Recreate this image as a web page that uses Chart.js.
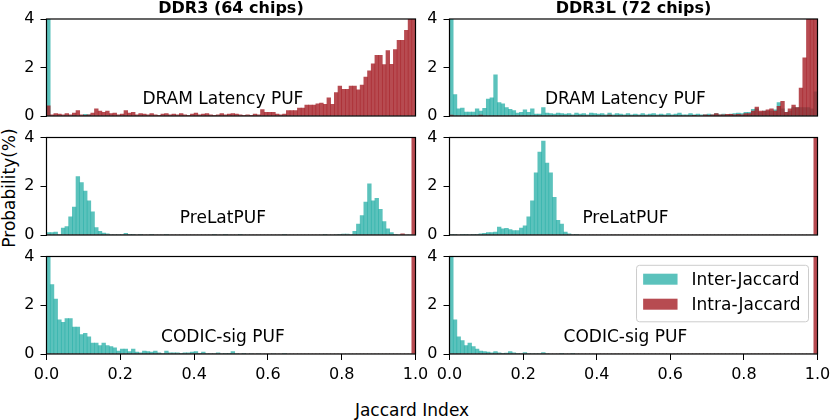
<!DOCTYPE html>
<html>
<head>
<meta charset="utf-8">
<title>Jaccard index histograms</title>
<script src="https://cdn.jsdelivr.net/npm/chart.js@4.4.0/dist/chart.umd.min.js"></script>
<style>
    html, body { margin: 0; padding: 0; background: #fff; overflow: hidden; }
    #figure { position: relative; width: 830px; height: 420px; overflow: hidden;
              font-family: 'DejaVu Sans', sans-serif; color: #000; }
    .panel { position: absolute; }
    .fig-label { position: absolute; font-size: 17px; line-height: 1; white-space: nowrap; }
    #supylabel { left: 9px; top: 188px; transform: translate(-50%, -50%) rotate(-90deg); }
    #supxlabel { left: 412px; top: 410px; transform: translate(-50%, -50%); }
</style>
</head>
<body>
<div id="figure">
    <div class="fig-label" id="supylabel">Probability(%)</div>
    <div class="fig-label" id="supxlabel">Jaccard Index</div>
</div>
<script>
// Histogram heights in %, one value per 0.01 wide bin of the Jaccard index (0.00 .. 1.00)
const BIN_WIDTH = 0.01;
const xTicks = [0, 0.2, 0.4, 0.6, 0.8, 1.0];
const yTicks = [0, 2, 4];
const seriesLabels = ['Inter-Jaccard', 'Intra-Jaccard'];
const columnTitles = ['DDR3 (64 chips)', 'DDR3L (72 chips)'];
const rowLabels = ['DRAM Latency PUF', 'PreLatPUF', 'CODIC-sig PUF'];

const ddr3LatencyInter = [
    8, 0.02, 0, 0.02, 0, 0, 0, 0.03, 0, 0,
    0.07, 0.05, 0, 0, 0, 0, 0.02, 0, 0, 0,
    0, 0, 0, 0, 0, 0, 0, 0, 0, 0,
    0, 0, 0, 0, 0, 0, 0, 0, 0, 0,
    0, 0, 0, 0, 0, 0, 0, 0, 0, 0,
    0, 0, 0, 0, 0, 0, 0, 0, 0, 0,
    0, 0, 0, 0, 0, 0, 0, 0, 0, 0,
    0, 0, 0, 0, 0, 0, 0, 0, 0, 0,
    0, 0, 0, 0, 0, 0, 0, 0, 0, 0,
    0, 0, 0, 0, 0, 0, 0, 0, 0, 0
];
const ddr3LatencyIntra = [
    0.42, 0.05, 0.1, 0.08, 0.05, 0.1, 0.05, 0.12, 0.22, 0.05,
    0.03, 0.05, 0.12, 0.3, 0.2, 0.15, 0.2, 0.1, 0.12, 0.05,
    0.08, 0.22, 0.12, 0.15, 0.05, 0.1, 0.08, 0.05, 0.1, 0.05,
    0.03, 0.08, 0.1, 0.05, 0.08, 0.05, 0.1, 0.05, 0.03, 0.08,
    0.12, 0.05, 0.08, 0.1, 0.05, 0.03, 0.05, 0.1, 0.05, 0.08,
    0.1, 0.08, 0.05, 0.03, 0.05, 0.03, 0.08, 0.05, 0.26, 0.15,
    0.15, 0.15, 0.08, 0.05, 0.08, 0.22, 0.22, 0.22, 0.33, 0.33,
    0.45, 0.45, 0.45, 0.5, 0.53, 0.48, 0.75, 0.48, 0.97, 1.23,
    1.1, 1.1, 1.23, 1.23, 1.08, 1.27, 1.6, 1.86, 2.15, 2.5,
    2.5, 2.12, 2.7, 2.13, 2.74, 3.12, 3.12, 3.53, 4.6, 5.2
];
const ddr3lLatencyInter = [
    7, 0.88, 0.3, 0.33, 0.16, 0.16, 0.16, 0.3, 0.2, 0.32,
    0.7, 0.75, 1.7, 0.55, 0.5, 0.35, 0.28, 0.22, 0.12, 0.15,
    0.25, 0.15, 0.3, 0.08, 0.08, 0.35, 0.12, 0.1, 0.08, 0.12,
    0.1, 0.08, 0.1, 0.05, 0.12, 0.08, 0.1, 0.05, 0.12, 0.1,
    0.08, 0.1, 0.05, 0.12, 0.05, 0.1, 0.08, 0.05, 0.1, 0.05,
    0.08, 0.05, 0.1, 0.05, 0.08, 0.1, 0.05, 0.08, 0.05, 0.1,
    0.05, 0.08, 0.12, 0.05, 0.05, 0.1, 0.05, 0.08, 0.05, 0.05,
    0.08, 0.05, 0.1, 0.05, 0.08, 0.05, 0.08, 0.1, 0.12, 0.1,
    0.15, 0.15, 0.27, 0.3, 0.15, 0.2, 0.2, 0.2, 0.25, 0.55,
    0.3, 0.15, 0.2, 0.35, 0.35, 0.35, 0.35, 0.35, 0.3, 1.0
];
const ddr3lLatencyIntra = [
    0.04, 0, 0, 0, 0, 0, 0, 0, 0.04, 0,
    0, 0, 0, 0, 0, 0, 0, 0, 0, 0,
    0, 0, 0, 0, 0, 0, 0, 0, 0, 0,
    0, 0, 0, 0, 0, 0, 0, 0, 0, 0,
    0, 0, 0, 0.04, 0, 0, 0, 0, 0, 0,
    0, 0, 0, 0, 0, 0, 0, 0, 0, 0,
    0, 0, 0, 0, 0, 0, 0.03, 0, 0, 0.05,
    0.03, 0.05, 0.1, 0.05, 0.05, 0.07, 0.07, 0.05, 0.07, 0.05,
    0.1, 0.1, 0.2, 0.37, 0.2, 0.2, 0.25, 0.3, 0.2, 0.4,
    0.6, 0.15, 0.3, 0.45, 0.35, 1.15, 2.4, 5, 5, 5
];
const ddr3PreLatInter = [
    0.1, 0.1, 0.12, 0.02, 0.28, 0.35, 0.75, 1.15, 2.4, 2.15,
    1.8, 1.4, 0.95, 0.3, 0.15, 0.08, 0.05, 0.02, 0.02, 0.02,
    0.02, 0.07, 0.01, 0.01, 0, 0.01, 0, 0, 0.01, 0,
    0, 0, 0.01, 0, 0, 0, 0, 0, 0, 0,
    0, 0, 0, 0, 0, 0.01, 0, 0, 0.01, 0,
    0, 0, 0.01, 0, 0, 0, 0, 0, 0, 0,
    0, 0, 0, 0, 0.01, 0, 0, 0, 0, 0,
    0, 0, 0, 0, 0, 0.01, 0, 0, 0.02, 0.03,
    0.04, 0.04, 0.02, 0.15, 0.45, 0.8, 1.35, 2.1, 1.4, 1.5,
    1.05, 0.55, 0.25, 0.1, 0.03, 0, 0, 0, 0, 0
];
const ddr3PreLatIntra = [
    0, 0, 0, 0, 0, 0, 0, 0, 0, 0,
    0, 0, 0, 0, 0, 0, 0, 0, 0, 0,
    0, 0, 0, 0, 0, 0, 0, 0, 0, 0,
    0, 0, 0, 0, 0, 0, 0, 0, 0, 0,
    0, 0, 0, 0, 0, 0, 0, 0, 0, 0,
    0, 0, 0, 0, 0, 0, 0, 0, 0, 0,
    0, 0, 0, 0, 0, 0, 0, 0, 0, 0,
    0, 0, 0, 0, 0, 0, 0, 0, 0, 0,
    0, 0, 0, 0, 0, 0, 0, 0, 0, 0,
    0, 0, 0, 0, 0, 0, 0.05, 0, 0, 8
];
const ddr3lPreLatInter = [
    0.01, 0.01, 0, 0.01, 0.01, 0.02, 0.03, 0.03, 0.05, 0.07,
    0.1, 0.1, 0.12, 0.32, 0.25, 0.27, 0.22, 0.18, 0.18, 0.28,
    0.38, 0.75, 1.4, 2.55, 3.4, 3.85, 2.95, 2.55, 1.55, 0.6,
    0.45, 0.12, 0.05, 0.02, 0.01, 0, 0, 0, 0, 0,
    0, 0, 0, 0, 0, 0, 0, 0, 0, 0,
    0, 0, 0, 0, 0, 0, 0, 0, 0, 0,
    0, 0, 0, 0, 0, 0, 0, 0, 0, 0,
    0, 0, 0, 0, 0, 0, 0, 0, 0, 0,
    0, 0, 0, 0, 0, 0, 0, 0, 0, 0,
    0, 0, 0, 0, 0, 0, 0, 0, 0, 0
];
const ddr3lPreLatIntra = [
    0, 0, 0, 0, 0, 0, 0, 0, 0, 0,
    0, 0, 0, 0, 0, 0, 0, 0, 0, 0,
    0, 0, 0, 0, 0, 0, 0, 0, 0, 0,
    0, 0, 0, 0, 0, 0, 0, 0, 0, 0,
    0, 0, 0, 0, 0, 0, 0, 0, 0, 0,
    0, 0, 0, 0, 0, 0, 0, 0, 0, 0,
    0, 0, 0, 0, 0, 0, 0, 0, 0, 0,
    0, 0, 0, 0, 0, 0, 0, 0, 0, 0,
    0, 0, 0, 0, 0, 0, 0, 0, 0, 0,
    0, 0, 0, 0, 0, 0, 0, 0, 0, 8
];
const ddr3CodicInter = [
    8, 2.85, 2.25, 1.4, 1.3, 1.45, 1.45, 1.1, 1.1, 0.8,
    0.85, 0.7, 0.45, 0.45, 0.35, 0.45, 0.35, 0.3, 0.25, 0.12,
    0.2, 0.2, 0.1, 0.2, 0.08, 0.05, 0.12, 0.1, 0.08, 0.12,
    0.05, 0.02, 0.12, 0.05, 0.05, 0.05, 0.03, 0.05, 0.05, 0.08,
    0.1, 0.03, 0.08, 0.02, 0.02, 0.02, 0.05, 0.02, 0.03, 0.03,
    0.1, 0.02, 0, 0.03, 0, 0.02, 0, 0.02, 0, 0,
    0, 0.02, 0, 0, 0.01, 0, 0, 0, 0, 0,
    0, 0, 0, 0, 0, 0, 0, 0, 0, 0,
    0, 0, 0, 0, 0, 0, 0, 0, 0, 0,
    0, 0, 0, 0, 0, 0, 0, 0, 0, 0
];
const ddr3CodicIntra = [
    0, 0, 0, 0, 0, 0, 0, 0, 0, 0,
    0, 0, 0, 0, 0, 0, 0, 0, 0, 0,
    0, 0, 0, 0, 0, 0, 0, 0, 0, 0,
    0, 0, 0, 0, 0, 0, 0, 0, 0, 0,
    0, 0, 0, 0, 0, 0, 0, 0, 0, 0,
    0, 0, 0, 0, 0, 0, 0, 0, 0, 0,
    0, 0, 0, 0, 0, 0, 0, 0, 0, 0,
    0, 0, 0, 0, 0, 0, 0, 0, 0, 0,
    0, 0, 0, 0, 0, 0, 0, 0, 0, 0,
    0, 0, 0, 0, 0, 0, 0, 0, 0, 8
];
const ddr3lCodicInter = [
    8, 1.4, 0.7, 0.55, 0.35, 0.45, 0.3, 0.2, 0.12, 0.1,
    0.08, 0.05, 0.1, 0.05, 0.03, 0.04, 0.1, 0.05, 0.03, 0.02,
    0.06, 0.02, 0.02, 0.02, 0.02, 0.06, 0.02, 0, 0, 0,
    0.01, 0, 0, 0.03, 0, 0, 0, 0, 0, 0,
    0, 0, 0, 0, 0, 0, 0, 0, 0, 0,
    0, 0, 0, 0, 0, 0, 0, 0, 0, 0,
    0, 0, 0, 0, 0, 0, 0, 0, 0, 0,
    0, 0, 0, 0, 0, 0, 0, 0, 0, 0,
    0, 0, 0, 0, 0, 0, 0, 0, 0, 0,
    0, 0, 0, 0, 0, 0, 0, 0, 0, 0
];
const ddr3lCodicIntra = [
    0, 0, 0, 0, 0, 0, 0, 0, 0, 0,
    0, 0, 0, 0, 0, 0, 0, 0, 0, 0,
    0, 0, 0, 0, 0, 0, 0, 0, 0, 0,
    0, 0, 0, 0, 0, 0, 0, 0, 0, 0,
    0, 0, 0, 0, 0, 0, 0, 0, 0, 0,
    0, 0, 0, 0, 0, 0, 0, 0, 0, 0,
    0, 0, 0, 0, 0, 0, 0, 0, 0, 0,
    0, 0, 0, 0, 0, 0, 0, 0, 0, 0,
    0, 0, 0, 0, 0, 0, 0, 0, 0, 0,
    0, 0, 0, 0, 0, 0, 0, 0, 0, 8
];

const INTER_COLOR = 'rgba(28, 170, 162, 0.72)';
const INTRA_COLOR = 'rgba(165, 30, 38, 0.8)';

// Panel placement in the 830x420 figure (container box + padding around the plot area)
const columns = [
    { left: 6, width: 428, yWidth: 40.5, padRight: 18.5 },
    { left: 409, width: 427, yWidth: 40.5, padRight: 18.5 }
];
const rows = [
    { top: -1, height: 133, padTop: 0, padBottom: 16 },
    { top: 121, height: 130, padTop: 16.5, padBottom: 16 },
    { top: 240, height: 149, padTop: 16.5, padBottom: 4 }
];
const panels = [
    { row: 0, col: 0, inter: ddr3LatencyInter, intra: ddr3LatencyIntra },
    { row: 0, col: 1, inter: ddr3lLatencyInter, intra: ddr3lLatencyIntra },
    { row: 1, col: 0, inter: ddr3PreLatInter, intra: ddr3PreLatIntra },
    { row: 1, col: 1, inter: ddr3lPreLatInter, intra: ddr3lPreLatIntra },
    { row: 2, col: 0, inter: ddr3CodicInter, intra: ddr3CodicIntra },
    { row: 2, col: 1, inter: ddr3lCodicInter, intra: ddr3lCodicIntra }
];

Chart.defaults.font.family = "'DejaVu Sans', sans-serif";
Chart.defaults.font.size = 16;
Chart.defaults.color = '#000';
Chart.defaults.animation = false;

function toBins(values) {
    return values.map((v, i) => ({ x: (i + 0.5) * BIN_WIDTH, y: v }));
}

// black box round each plot area, like matplotlib spines
const framePlugin = {
    id: 'frame',
    afterDatasetsDraw(chart) {
        const a = chart.chartArea;
        const ctx = chart.ctx;
        ctx.save();
        ctx.strokeStyle = '#000';
        ctx.lineWidth = 1.2;
        ctx.strokeRect(a.left, a.top, a.right - a.left, a.bottom - a.top);
        ctx.restore();
    }
};

// PUF name written inside each panel
const panelLabelPlugin = {
    id: 'panelLabel',
    afterDatasetsDraw(chart, args, opts) {
        if (!opts.text) return;
        const a = chart.chartArea;
        const ctx = chart.ctx;
        ctx.save();
        ctx.font = "17px 'DejaVu Sans', sans-serif";
        ctx.fillStyle = '#000';
        ctx.textAlign = 'center';
        ctx.textBaseline = 'alphabetic';
        ctx.fillText(opts.text, a.left + (a.right - a.left) * 0.478, a.bottom - 12);
        ctx.restore();
    }
};

// legend box in the upper right of the plot area (only on the last panel)
const boxLegendPlugin = {
    id: 'boxLegend',
    afterDraw(chart, args, opts) {
        if (!opts.display) return;
        const a = chart.chartArea;
        const ctx = chart.ctx;
        const datasets = chart.data.datasets;
        ctx.save();
        ctx.font = "17px 'DejaVu Sans', sans-serif";
        const textW = Math.max(...datasets.map(d => ctx.measureText(d.label).width));
        const boxW = textW + 63;
        const boxH = 56.5;
        const left = a.right - 9 - boxW;
        const top = a.top + 8.8;
        ctx.beginPath();
        ctx.roundRect(left, top, boxW, boxH, 3);
        ctx.fillStyle = 'rgba(255, 255, 255, 0.8)';
        ctx.fill();
        ctx.strokeStyle = '#cccccc';
        ctx.lineWidth = 1;
        ctx.stroke();
        datasets.forEach((d, i) => {
            const cy = top + 13.9 + i * 25;
            ctx.fillStyle = d.backgroundColor;
            ctx.fillRect(left + 6.6, cy - 5.5, 34.4, 11);
            ctx.fillStyle = '#000';
            ctx.textAlign = 'left';
            ctx.textBaseline = 'alphabetic';
            ctx.fillText(d.label, left + 55, cy + 6);
        });
        ctx.restore();
    }
};

const figure = document.getElementById('figure');

panels.forEach(function(p, idx) {
    const col = columns[p.col];
    const row = rows[p.row];
    const isBottom = p.row === rows.length - 1;
    const isTop = p.row === 0;

    const box = document.createElement('div');
    box.className = 'panel';
    box.style.left = col.left + 'px';
    box.style.top = row.top + 'px';
    box.style.width = col.width + 'px';
    box.style.height = row.height + 'px';
    const canvas = document.createElement('canvas');
    box.appendChild(canvas);
    figure.appendChild(box);

    new Chart(canvas, {
        type: 'bar',
        data: {
            datasets: [{
                label: seriesLabels[0],
                data: toBins(p.inter),
                backgroundColor: INTER_COLOR,
                order: 2
            }, {
                label: seriesLabels[1],
                data: toBins(p.intra),
                backgroundColor: INTRA_COLOR,
                order: 1
            }]
        },
        options: {
            responsive: true,
            maintainAspectRatio: false,
            animation: false,
            events: [],
            layout: {
                padding: { left: 0, right: col.padRight, top: row.padTop, bottom: row.padBottom }
            },
            datasets: {
                bar: {
                    grouped: false,
                    barPercentage: 1,
                    categoryPercentage: 1,
                    borderWidth: 0,
                    clip: 0
                }
            },
            plugins: {
                legend: { display: false },
                tooltip: { enabled: false },
                title: {
                    display: isTop,
                    text: columnTitles[p.col],
                    fullSize: false,
                    color: '#000',
                    font: { size: 16, weight: 'bold', lineHeight: 1.15 },
                    padding: { top: 0.5, bottom: 1.1 }
                },
                panelLabel: { text: rowLabels[p.row] },
                boxLegend: { display: idx === panels.length - 1 }
            },
            scales: {
                x: {
                    type: 'linear',
                    display: isBottom,
                    min: 0,
                    max: 1,
                    offset: false,
                    afterBuildTicks: function(scale) {
                        scale.ticks = xTicks.map(v => ({ value: v }));
                    },
                    afterFit: function(scale) {
                        scale.height = isBottom ? 31 : 0;
                    },
                    ticks: {
                        autoSkip: false,
                        maxRotation: 0,
                        padding: 5,
                        color: '#000',
                        font: { size: 16 },
                        callback: function(value) { return value.toFixed(1); }
                    },
                    grid: {
                        offset: false,
                        drawOnChartArea: false,
                        drawTicks: true,
                        tickLength: 6,
                        color: '#000',
                        lineWidth: 1
                    },
                    border: { display: false }
                },
                y: {
                    type: 'linear',
                    min: 0,
                    max: 4,
                    afterBuildTicks: function(scale) {
                        scale.ticks = yTicks.map(v => ({ value: v }));
                    },
                    afterFit: function(scale) {
                        scale.width = col.yWidth;
                    },
                    ticks: {
                        padding: 6,
                        color: '#000',
                        font: { size: 16 }
                    },
                    grid: {
                        drawOnChartArea: false,
                        drawTicks: true,
                        tickLength: 6,
                        color: '#000',
                        lineWidth: 1
                    },
                    border: { display: false }
                }
            }
        },
        plugins: [framePlugin, panelLabelPlugin, boxLegendPlugin]
    });
});
</script>
</body>
</html>
